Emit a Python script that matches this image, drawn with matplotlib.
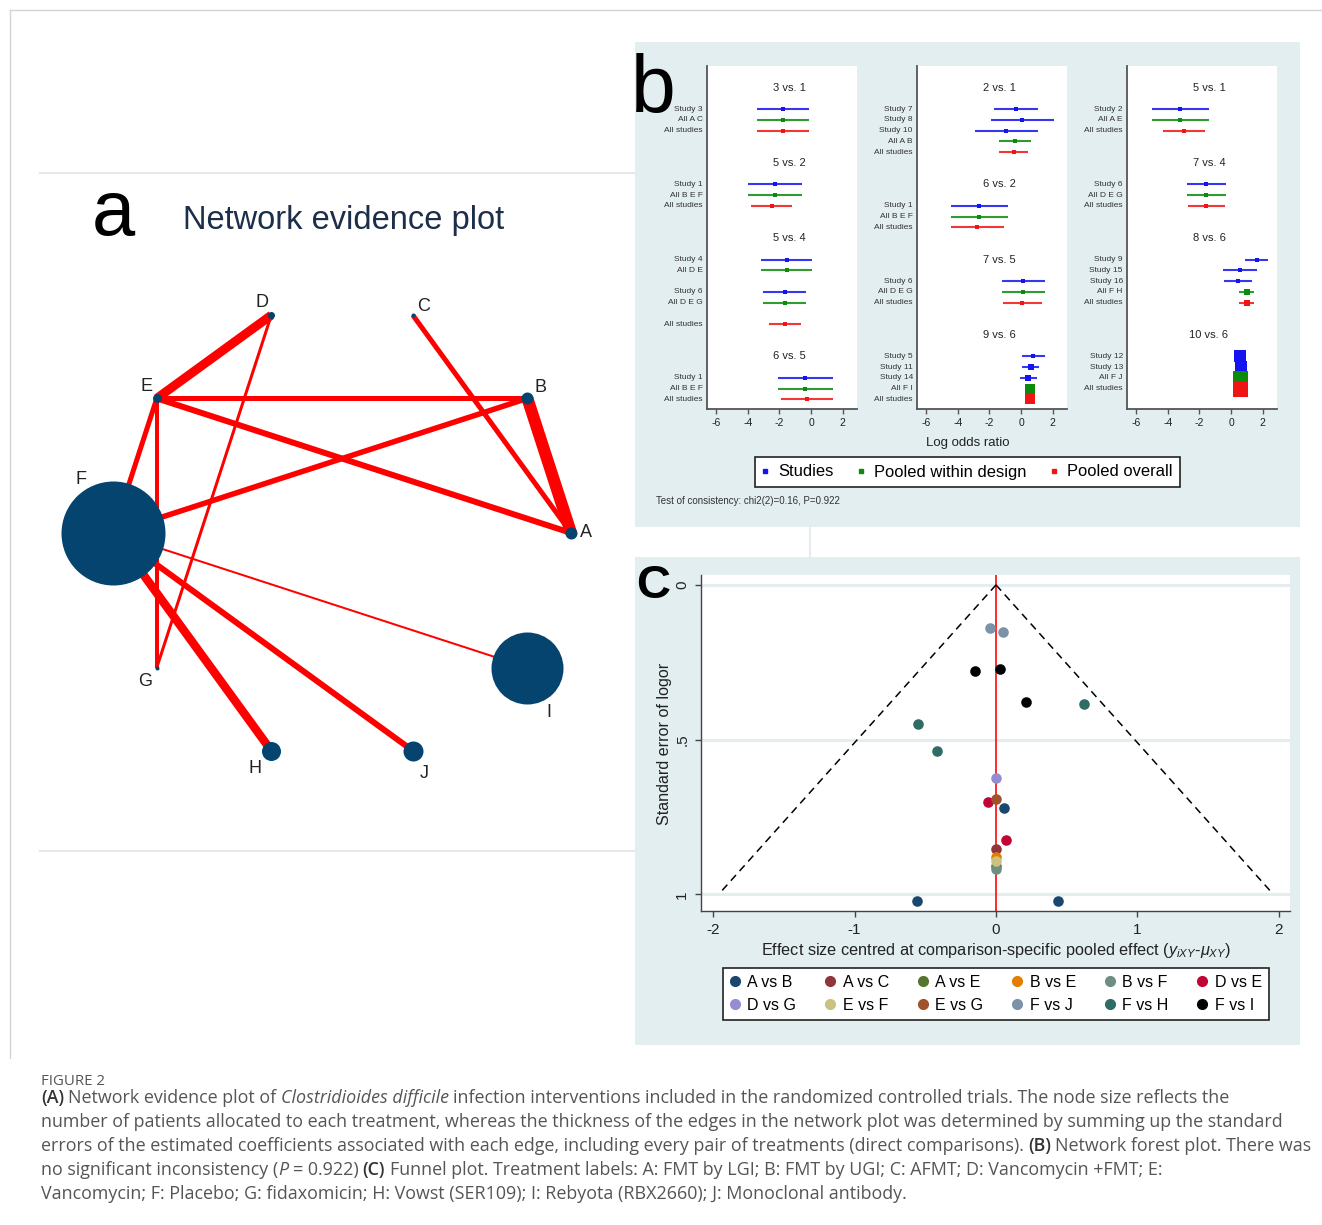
import numpy as np
import matplotlib.pyplot as plt
from matplotlib.patches import Rectangle
from matplotlib.lines import Line2D

plt.rcParams['font.family'] = ['Liberation Sans', 'DejaVu Sans']
plt.rcParams['mathtext.fontset'] = 'custom'
plt.rcParams['mathtext.it'] = 'Liberation Sans:italic'
plt.rcParams['mathtext.rm'] = 'Liberation Sans'

W, H = 1322, 1225

# ---------------- data: network (panel a) ----------------
node_order = ['A', 'B', 'C', 'D', 'E', 'F', 'G', 'H', 'J', 'I']   # around the circle
node_size = [6, 6, 2, 3.5, 4.5, 52, 2, 9.5, 10, 36]               # relative node radius
edge_from = ['A', 'A', 'A', 'B', 'B', 'D', 'D', 'E', 'E', 'F', 'F', 'F']
edge_to = ['B', 'C', 'E', 'E', 'F', 'E', 'G', 'F', 'G', 'H', 'I', 'J']
edge_weight = [12, 5, 6, 5, 5.5, 9, 3, 5, 4, 8.5, 2, 6]

# ---------------- data: network forest plot (panel b) ----------------
c1_titles = ['3 vs. 1', '5 vs. 2', '5 vs. 4', '6 vs. 5']
c1_labels = ['Study 3', 'All A C', 'All studies', 'Study 1', 'All B E F', 'All studies',
             'Study 4', 'All D E', 'Study 6', 'All D E G', 'All studies',
             'Study 1', 'All B E F', 'All studies']
c1_kind = ['s', 'w', 'o', 's', 'w', 'o', 's', 'w', 's', 'w', 'o', 's', 'w', 'o']
c1_est = [-1.79, -1.79, -1.79, -2.29, -2.29, -2.50, -1.53, -1.53, -1.68, -1.68, -1.62, -0.38, -0.38, -0.28]
c1_lo = [-3.44, -3.44, -3.44, -3.97, -3.97, -3.80, -3.17, -3.17, -3.06, -3.06, -2.67, -2.12, -2.12, -1.93]
c1_hi = [-0.13, -0.13, -0.13, -0.57, -0.57, -1.20, 0.08, 0.08, -0.30, -0.30, -0.61, 1.38, 1.38, 1.38]
c1_wt = [3.5, 3.5, 4, 3.5, 3.5, 4, 3.5, 3.5, 3.5, 3.5, 4, 3.5, 3.5, 4]

c2_titles = ['2 vs. 1', '6 vs. 2', '7 vs. 5', '9 vs. 6']
c2_labels = ['Study 7', 'Study 8', 'Study 10', 'All A B', 'All studies',
             'Study 1', 'All B E F', 'All studies',
             'Study 6', 'All D E G', 'All studies',
             'Study 5', 'Study 11', 'Study 14', 'All F I', 'All studies']
c2_kind = ['s', 's', 's', 'w', 'o', 's', 'w', 'o', 's', 'w', 'o', 's', 's', 's', 'w', 'o']
c2_est = [-0.34, 0.04, -0.97, -0.40, -0.48, -2.65, -2.65, -2.77, 0.12, 0.12, 0.08, 0.77, 0.60, 0.43, 0.56, 0.56]
c2_lo = [-1.74, -1.93, -2.94, -1.39, -1.39, -4.45, -4.45, -4.45, -1.22, -1.22, -1.14, 0.06, 0.08, -0.09, 0.25, 0.25]
c2_hi = [1.09, 2.05, 1.06, 0.60, 0.46, -0.86, -0.86, -1.08, 1.49, 1.49, 1.34, 1.53, 1.13, 0.98, 0.87, 0.87]
c2_wt = [3.5, 3.5, 3.5, 5, 5, 3.5, 3.5, 4, 3.5, 3.5, 4, 5, 5.5, 5.5, 9.5, 9.5]

c3_titles = ['5 vs. 1', '7 vs. 4', '8 vs. 6', '10 vs. 6']
c3_labels = ['Study 2', 'All A E', 'All studies', 'Study 6', 'All D E G', 'All studies',
             'Study 9', 'Study 15', 'Study 16', 'All F H', 'All studies',
             'Study 12', 'Study 13', 'All F J', 'All studies']
c3_kind = ['s', 'w', 'o', 's', 'w', 'o', 's', 's', 's', 'w', 'o', 's', 's', 'w', 'o']
c3_est = [-3.23, -3.23, -3.00, -1.57, -1.57, -1.57, 1.62, 0.57, 0.42, 0.98, 0.98, 0.54, 0.63, 0.57, 0.57]
c3_lo = [-5.03, -5.03, -4.31, -2.79, -2.79, -2.71, 0.88, -0.51, -0.47, 0.48, 0.48, 0.25, 0.33, 0.28, 0.28]
c3_hi = [-1.42, -1.42, -1.65, -0.34, -0.34, -0.36, 2.36, 1.62, 1.30, 1.47, 1.47, 0.83, 0.93, 0.86, 0.86]
c3_wt = [3.5, 3.5, 4, 3.5, 3.5, 4, 5, 4, 4, 6.5, 6.5, 11.5, 11.5, 15, 15]

# row layout of each column (Stata puts blank rows between blocks)
c1_rows = [0, 1, 2, 7, 8, 9, 14, 15, 17, 18, 20, 25, 26, 27]
c1_title_rows = [-2, 5, 12, 23]
c2_rows = [0, 1, 2, 3, 4, 9, 10, 11, 16, 17, 18, 23, 24, 25, 26, 27]
c2_title_rows = [-2, 7, 14, 21]
c3_rows = [0, 1, 2, 7, 8, 9, 14, 15, 16, 17, 18, 23, 24, 25, 26]
c3_title_rows = [-2, 5, 12, 21]

# ---------------- data: funnel plot (panel c) ----------------
comparisons = ['A vs B', 'A vs C', 'A vs E', 'B vs E', 'B vs F', 'D vs E',
               'D vs G', 'E vs F', 'E vs G', 'F vs J', 'F vs H', 'F vs I']
comp_colors = ['#1a476f', '#90353b', '#55752f', '#e37e00', '#6e8e84', '#c10534',
               '#938dd2', '#cac27e', '#a0522d', '#7b92a8', '#2d6d66', '#000000']
fun_comp = ['A vs B', 'A vs B', 'A vs B', 'A vs C', 'A vs E', 'B vs E', 'B vs F',
            'D vs E', 'D vs E', 'D vs G', 'E vs F', 'E vs G', 'F vs J', 'F vs J',
            'F vs H', 'F vs H', 'F vs H', 'F vs I', 'F vs I', 'F vs I']
fun_effect = [-0.558, 0.054, 0.440, 0.0, 0.0, 0.0, 0.0, -0.057, 0.073, 0.0, 0.0, 0.0,
              -0.042, 0.047, -0.553, -0.415, 0.620, -0.146, 0.028, 0.210]
fun_se = [1.021, 0.722, 1.021, 0.853, 0.908, 0.878, 0.919, 0.702, 0.823, 0.624, 0.891, 0.692,
          0.139, 0.153, 0.450, 0.536, 0.386, 0.279, 0.272, 0.380]


def fr(x, y, w=0, h=0):
    # pixel box (top-left origin) -> figure fraction rect
    return [x / W, 1 - (y + h) / H, w / W, h / H]


fig = plt.figure(figsize=(W / 100, H / 100), dpi=100)

bg = fig.add_axes([0, 0, 1, 1], zorder=-10)
bg.set_xlim(0, W)
bg.set_ylim(H, 0)
bg.axis('off')
panel_bg = '#e2eef0'
bg.add_patch(Rectangle((635, 42), 665, 485, color=panel_bg, lw=0))
bg.add_patch(Rectangle((635, 557), 665, 488, color=panel_bg, lw=0))
bg.plot([10, 1322], [10, 10], color='#d4d4d4', lw=1)
bg.plot([10, 10], [10, 1058], color='#d4d4d4', lw=1)
bg.plot([40, 635], [173, 173], color='#e6e9ec', lw=1.5)
bg.plot([40, 635], [851, 851], color='#e6e9ec', lw=1.5)
bg.plot([810, 810], [527, 557], color='#e6ecee', lw=1.5)

# ---------------- panel a ----------------
bg.text(92, 235, 'a', fontsize=56, color='black', va='baseline', ha='left')
bg.text(183, 229, 'Network evidence plot', fontsize=23.5, color='#1c2e4a', va='baseline', ha='left')

ax_a = fig.add_axes(fr(40, 173, 595, 678))
ax_a.set_xlim(-1.319, 1.279)
ax_a.set_ylim(-1.389, 1.572)
ax_a.axis('off')
ang = np.deg2rad(np.arange(len(node_order)) * 360 / len(node_order))
pos = {n: (np.cos(a), np.sin(a)) for n, a in zip(node_order, ang)}
for a_, b_, w_ in zip(edge_from, edge_to, edge_weight):
    ax_a.plot([pos[a_][0], pos[b_][0]], [pos[a_][1], pos[b_][1]], color='#ff0000',
              lw=w_ * 0.72, solid_capstyle='butt', zorder=1)
for n, r in zip(node_order, node_size):
    ax_a.scatter(pos[n][0], pos[n][1], s=(2 * r * 0.72) ** 2, color='#05446f', lw=0, zorder=2)
label_off = {'A': (15, 0), 'B': (13, 11), 'C': (11, 9), 'D': (-9, 13), 'E': (-10, 12),
             'F': (-32, 53), 'G': (-12, -14), 'H': (-16, -18), 'I': (22, -45), 'J': (11, -23)}
for n in node_order:
    dx, dy = label_off[n]
    ax_a.annotate(n, pos[n], xytext=(dx * 0.72, dy * 0.72), textcoords='offset points',
                  ha='center', va='center', fontsize=13, color='#222222')

# ---------------- panel b ----------------
bg.text(631, 112, 'b', fontsize=58, color='black', va='baseline', ha='left')
kind_col = {'s': '#1414f0', 'w': '#0b8a0b', 'o': '#f01414'}
columns = [
    (707, c1_titles, c1_title_rows, c1_rows, c1_labels, c1_kind, c1_est, c1_lo, c1_hi, c1_wt),
    (917, c2_titles, c2_title_rows, c2_rows, c2_labels, c2_kind, c2_est, c2_lo, c2_hi, c2_wt),
    (1127, c3_titles, c3_title_rows, c3_rows, c3_labels, c3_kind, c3_est, c3_lo, c3_hi, c3_wt),
]
for left, titles, trows, rows, labels, kinds, est, lo, hi, wt in columns:
    ax = fig.add_axes(fr(left, 66, 150, 343))
    ax.set_facecolor('white')
    ax.set_xlim(-6.58, 2.9)
    ax.set_ylim(27.9, -4.0)
    for sp in ['top', 'right']:
        ax.spines[sp].set_visible(False)
    for sp in ['left', 'bottom']:
        ax.spines[sp].set_color('#555555')
        ax.spines[sp].set_linewidth(1.3)
    ax.set_yticks([])
    ax.set_xticks([-6, -4, -2, 0, 2])
    ax.set_xticklabels(['-6', '-4', '-2', '0', '2'])
    ax.tick_params(axis='x', length=3.5, width=1, color='#555555', labelsize=7.5,
                   labelcolor='#222222', pad=3)
    for t, r in zip(titles, trows):
        ax.text(-1.4, r, t, ha='center', va='center', fontsize=8, color='#222222')
    for r, lab, k, e, l, h, w in zip(rows, labels, kinds, est, lo, hi, wt):
        c = kind_col[k]
        ax.plot([l, h], [r, r], color=c, lw=1.5, alpha=0.85, solid_capstyle='butt')
        ax.plot(e, r, marker='s', ms=w * 0.72, color=c, mew=0, ls='')
        ax.annotate(lab, xy=(0, r), xycoords=('axes fraction', 'data'), xytext=(-3, 0),
                    textcoords='offset points', ha='right', va='center', fontsize=6,
                    color='#333333')

fig.text(968 / W, 1 - 443 / H, 'Log odds ratio', ha='center', va='center', fontsize=9.5, color='#222222')
leg_b = [Line2D([], [], marker='s', ls='', ms=2.5, color=kind_col[k]) for k in ['s', 'w', 'o']]
lb = fig.legend(leg_b, ['Studies', 'Pooled within design', 'Pooled overall'], loc='center',
                bbox_to_anchor=(967.5 / W, 1 - 472 / H), ncol=3, fontsize=11.9,
                frameon=True, fancybox=False, edgecolor='#222222', framealpha=1,
                handlelength=0.4, handletextpad=0.6, columnspacing=1.45, borderpad=0.45)
lb.get_frame().set_linewidth(1.2)
fig.text(656 / W, 1 - 501 / H, 'Test of consistency: chi2(2)=0.16, P=0.922', ha='left', va='center',
         fontsize=7, color='#333333')

# ---------------- panel c ----------------
bg.text(636, 598, 'C', fontsize=34, fontweight='bold', color='black', va='baseline', ha='left')
ax_c = fig.add_axes(fr(701, 575, 589, 336))
ax_c.set_facecolor('white')
ax_c.set_xlim(-2.085, 2.078)
ax_c.set_ylim(1.054, -0.032)
for y in [0, 0.5, 1]:
    ax_c.axhline(y, color='#e4eef1', lw=2.2, zorder=0)
ax_c.axvline(0, color='#ff1a1a', lw=1.3, zorder=1)
ax_c.plot([0, -1.96], [0, 1], color='black', lw=1.1, ls=(0, (5, 3.5)), zorder=1)
ax_c.plot([0, 1.96], [0, 1], color='black', lw=1.1, ls=(0, (5, 3.5)), zorder=1)
handles = []
for comp, col in zip(comparisons, comp_colors):
    xs = [x for x, c in zip(fun_effect, fun_comp) if c == comp]
    ys = [y for y, c in zip(fun_se, fun_comp) if c == comp]
    ax_c.scatter(xs, ys, s=58, color=col, lw=0, zorder=3)
    handles.append(Line2D([], [], marker='o', ls='', ms=7, color=col))
for sp in ['top', 'right']:
    ax_c.spines[sp].set_visible(False)
for sp in ['left', 'bottom']:
    ax_c.spines[sp].set_color('#444444')
    ax_c.spines[sp].set_linewidth(1)
ax_c.set_xticks([-2, -1, 0, 1, 2])
ax_c.set_xticklabels(['-2', '-1', '0', '1', '2'])
ax_c.set_yticks([0, 0.5, 1])
ax_c.set_yticklabels(['0', '.5', '1'], rotation=90, va='center')
ax_c.tick_params(length=4.5, width=1, color='#444444', labelsize=11, labelcolor='#222222', pad=4)
fig.text(664 / W, 1 - 744 / H, 'Standard error of logor', rotation=90, ha='center', va='center',
         fontsize=11.6, color='#222222')
fig.text(996 / W, 1 - 950 / H,
         'Effect size centred at comparison-specific pooled effect ($y_{iXY}$-$\\mu_{XY}$)',
         ha='center', va='center', fontsize=11.7, color='#222222')
order = [0, 6, 1, 7, 2, 8, 3, 9, 4, 10, 5, 11]
lc = fig.legend([handles[i] for i in order], [comparisons[i] for i in order], loc='center',
                bbox_to_anchor=(996 / W, 1 - 994 / H), ncol=6, fontsize=11.5,
                frameon=True, fancybox=False, edgecolor='#222222', framealpha=1,
                handlelength=0.6, handletextpad=0.5, columnspacing=1.8, borderpad=0.45,
                labelspacing=0.5)
lc.get_frame().set_linewidth(1.2)

# ---------------- caption ----------------
cap_font = ['Open Sans', 'DejaVu Sans']
cap_size = 12.9
cap_col = '#555555'
bg.text(41, 1085, 'FIGURE 2', fontsize=10.8, color='#555555', family=cap_font, va='baseline')

cap_lines = [
    [('(A)', 'b'), (' Network evidence plot of ', 'n'), ('Clostridioides difficile', 'i'),
     (' infection interventions included in the randomized controlled trials. The node size reflects the', 'n')],
    [('number of patients allocated to each treatment, whereas the thickness of the edges in the network plot was determined by summing up the standard', 'n')],
    [('errors of the estimated coefficients associated with each edge, including every pair of treatments (direct comparisons). ', 'n'),
     ('(B)', 'b'), (' Network forest plot. There was', 'n')],
    [('no significant inconsistency (', 'n'), ('P', 'i'), (' = 0.922) ', 'n'), ('(C)', 'b'),
     (' Funnel plot. Treatment labels: A: FMT by LGI; B: FMT by UGI; C: AFMT; D: Vancomycin +FMT; E:', 'n')],
    [('Vancomycin; F: Placebo; G: fidaxomicin; H: Vowst (SER109); I: Rebyota (RBX2660); J: Monoclonal antibody.', 'n')],
]
space_pt = 0.24 * cap_size
for i, pieces in enumerate(cap_lines):
    base = 1103 + 24 * i
    prev = None
    trail = 0
    for txt, st in pieces:
        kw = dict(fontsize=cap_size, family=cap_font, color=cap_col)
        if st == 'b':
            kw.update(fontweight='semibold', color='#333333')
        elif st == 'i':
            kw.update(style='italic')
        lead = len(txt) - len(txt.lstrip(' '))
        gap = lead + trail
        trail = len(txt) - len(txt.rstrip(' '))
        txt = txt.strip(' ')
        if prev is None:
            prev = bg.text(41, base, txt, va='baseline', ha='left', **kw)
        else:
            prev = bg.annotate(txt, xy=(1, 0), xycoords=prev, xytext=(space_pt * gap, 0),
                               textcoords='offset points', va='bottom', ha='left', **kw)

fig.savefig('out.png', dpi=100)
